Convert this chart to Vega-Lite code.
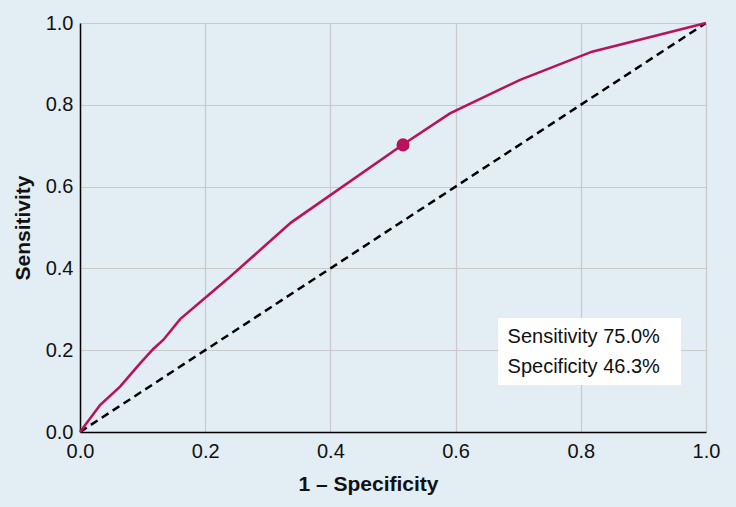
{
  "$schema": "https://vega.github.io/schema/vega-lite/v6.json",
  "width": 626,
  "height": 409,
  "autosize": {"type": "none"},
  "padding": {"left": 80, "top": 23, "right": 30, "bottom": 75},
  "background": "#e2edf4",
  "config": {
    "view": {"stroke": null, "fill": "#e2edf4"},
    "font": "Liberation Sans",
    "axis": {
      "labelFont": "Liberation Sans",
      "titleFont": "Liberation Sans",
      "labelFontSize": 20,
      "titleFontSize": 21,
      "labelColor": "#111111",
      "titleColor": "#111111",
      "titleFontWeight": "bold",
      "gridColor": "#c9c9c9",
      "gridWidth": 1.2,
      "domainColor": "#000000",
      "domainWidth": 1.5,
      "ticks": false
    }
  },
  "datasets": {
    "roc": [
      {"fpr": 0.0, "tpr": 0.0},
      {"fpr": 0.032, "tpr": 0.066},
      {"fpr": 0.064, "tpr": 0.111},
      {"fpr": 0.096, "tpr": 0.168},
      {"fpr": 0.117, "tpr": 0.203},
      {"fpr": 0.133, "tpr": 0.225},
      {"fpr": 0.16, "tpr": 0.276},
      {"fpr": 0.234, "tpr": 0.372},
      {"fpr": 0.337, "tpr": 0.512},
      {"fpr": 0.516, "tpr": 0.703},
      {"fpr": 0.591, "tpr": 0.779},
      {"fpr": 0.703, "tpr": 0.861},
      {"fpr": 0.818, "tpr": 0.93},
      {"fpr": 1.0, "tpr": 1.0}
    ],
    "diag": [
      {"fpr": 0.0, "tpr": 0.0},
      {"fpr": 1.0, "tpr": 1.0}
    ],
    "cut": [
      {"fpr": 0.516, "tpr": 0.702}
    ],
    "box": [
      {"x1": 0.668, "x2": 0.96, "y1": 0.115, "y2": 0.279}
    ],
    "labels": [
      {"x": 0.683, "y": 0.232, "text": "Sensitivity 75.0%"},
      {"x": 0.683, "y": 0.159, "text": "Specificity 46.3%"}
    ]
  },
  "layer": [
    {
      "data": {"name": "diag"},
      "mark": {"type": "line", "color": "#000000", "strokeWidth": 2.5, "strokeDash": [8, 5], "clip": true},
      "encoding": {
        "x": {
          "field": "fpr", "type": "quantitative",
          "scale": {"domain": [0, 1], "nice": false, "zero": false},
          "axis": {"title": "1 – Specificity", "values": [0, 0.2, 0.4, 0.6, 0.8, 1.0], "format": ".1f", "labelPadding": 9, "titlePadding": 12, "titleX": 288, "labelFlush": false}
        },
        "y": {
          "field": "tpr", "type": "quantitative",
          "scale": {"domain": [0, 1], "nice": false, "zero": false},
          "axis": {"title": "Sensitivity", "values": [0, 0.2, 0.4, 0.6, 0.8, 1.0], "format": ".1f", "labelPadding": 7, "titlePadding": 12, "labelFlush": false}
        }
      }
    },
    {
      "data": {"name": "roc"},
      "mark": {"type": "line", "color": "#b8125c", "strokeWidth": 2.6},
      "encoding": {
        "x": {"field": "fpr", "type": "quantitative"},
        "y": {"field": "tpr", "type": "quantitative"}
      }
    },
    {
      "data": {"name": "cut"},
      "mark": {"type": "point", "filled": true, "opacity": 1, "color": "#b8125c", "size": 170},
      "encoding": {
        "x": {"field": "fpr", "type": "quantitative"},
        "y": {"field": "tpr", "type": "quantitative"}
      }
    },
    {
      "data": {"name": "box"},
      "mark": {"type": "rect", "color": "#ffffff", "opacity": 1},
      "encoding": {
        "x": {"field": "x1", "type": "quantitative"},
        "x2": {"field": "x2"},
        "y": {"field": "y1", "type": "quantitative"},
        "y2": {"field": "y2"}
      }
    },
    {
      "data": {"name": "labels"},
      "mark": {"type": "text", "align": "left", "baseline": "middle", "fontSize": 20, "font": "Liberation Sans", "color": "#111111"},
      "encoding": {
        "x": {"field": "x", "type": "quantitative"},
        "y": {"field": "y", "type": "quantitative"},
        "text": {"field": "text"}
      }
    }
  ]
}
